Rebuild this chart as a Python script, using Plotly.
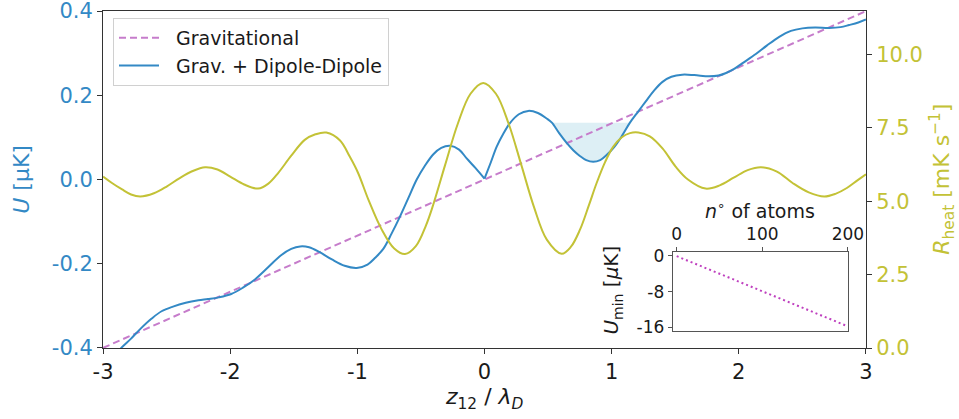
import plotly.graph_objects as go
import numpy as np

# ---------------- data ----------------
# Gravitational potential (straight line)
grav_z = [-3.0, 3.0]
grav_u = [-0.4, 0.4]

# Grav. + Dipole-Dipole, left branch (z <= 0)
dd_left_z = [-3.0, -2.93, -2.857, -2.78, -2.71, -2.62, -2.54, -2.45, -2.35, -2.25,
             -2.175, -2.09, -1.992, -1.90, -1.808, -1.70, -1.60, -1.52, -1.45, -1.38,
             -1.30, -1.20, -1.10, -1.005, -0.92, -0.86, -0.796, -0.73, -0.664, -0.60,
             -0.533, -0.47, -0.402, -0.34, -0.271, -0.20, -0.14, -0.07, 0.0]
dd_left_u = [-0.445, -0.425, -0.400, -0.378, -0.356, -0.331, -0.313, -0.302, -0.293, -0.287,
             -0.284, -0.280, -0.272, -0.257, -0.238, -0.208, -0.180, -0.165, -0.159, -0.161,
             -0.172, -0.190, -0.205, -0.210, -0.202, -0.186, -0.165, -0.128, -0.0875, -0.045,
             0.0, 0.032, 0.060, 0.075, 0.080, 0.071, 0.050, 0.027, 0.002]

# Grav. + Dipole-Dipole, right branch (z >= 0)
dd_right_z = [0.0, 0.05, 0.096, 0.15, 0.20, 0.27, 0.344, 0.42, 0.489, 0.53,
              0.59, 0.646, 0.70, 0.75, 0.80, 0.855, 0.91, 0.96, 1.02, 1.08,
              1.144, 1.21, 1.267, 1.33, 1.40, 1.47, 1.555, 1.65, 1.765, 1.84,
              1.90, 1.96, 2.027, 2.134, 2.22, 2.318, 2.41, 2.50, 2.60, 2.711,
              2.80, 2.868, 2.94, 3.0]
dd_right_u = [0.002, 0.041, 0.078, 0.110, 0.134, 0.155, 0.163, 0.158, 0.145, 0.135,
              0.109, 0.087, 0.069, 0.056, 0.046, 0.042, 0.046, 0.058, 0.077, 0.103,
              0.135, 0.162, 0.185, 0.210, 0.232, 0.244, 0.249, 0.248, 0.245, 0.247,
              0.253, 0.262, 0.276, 0.298, 0.318, 0.339, 0.353, 0.359, 0.361, 0.360,
              0.362, 0.367, 0.373, 0.380]

# Shaded well
fill_level = 0.135
fill_lo, fill_hi = 0.53, 1.144

# Heating rate (right axis)
heat_z = [-3.0, -2.93, -2.85, -2.78, -2.708, -2.60, -2.50, -2.40, -2.30, -2.197,
          -2.10, -2.0, -1.89, -1.781, -1.70, -1.623, -1.52, -1.414, -1.33, -1.244,
          -1.136, -1.06, -0.995, -0.91, -0.81, -0.71, -0.625, -0.54, -0.46, -0.41,
          -0.31, -0.21, -0.11, -0.01, 0.09, 0.19, 0.29, 0.39, 0.49, 0.607,
          0.68, 0.751, 0.82, 0.882, 0.95, 1.013, 1.08, 1.144, 1.21, 1.30,
          1.40, 1.503, 1.60, 1.739, 1.85, 1.96, 2.07, 2.174, 2.30, 2.423,
          2.55, 2.672, 2.76, 2.85, 2.93, 3.0]
heat_r = [5.84, 5.62, 5.40, 5.23, 5.16, 5.27, 5.50, 5.78, 6.02, 6.16,
          6.08, 5.84, 5.57, 5.43, 5.60, 5.96, 6.55, 7.09, 7.28, 7.34,
          7.07, 6.52, 5.97, 5.02, 4.05, 3.39, 3.20, 3.47, 4.18, 4.79,
          6.23, 7.64, 8.66, 9.03, 8.66, 7.64, 6.23, 4.79, 3.69, 3.21,
          3.45, 4.03, 4.85, 5.62, 6.35, 6.86, 7.18, 7.32, 7.34, 7.21,
          6.80, 6.18, 5.74, 5.43, 5.54, 5.80, 6.06, 6.16, 6.01, 5.62,
          5.30, 5.16, 5.25, 5.45, 5.70, 5.92]

# Inset: minimum potential vs number of atoms
inset_n = [0, 200]
inset_u = [-0.05, -15.8]

# Tick values / labels
x_ticks = [-3, -2, -1, 0, 1, 2, 3]
x_ticklabels = ["-3", "-2", "-1", "0", "1", "2", "3"]
u_ticks = [-0.4, -0.2, 0.0, 0.2, 0.4]
u_ticklabels = ["-0.4", "-0.2", "0.0", "0.2", "0.4"]
r_ticks = [0.0, 2.5, 5.0, 7.5, 10.0]
r_ticklabels = ["0.0", "2.5", "5.0", "7.5", "10.0"]
n_ticks = [0, 100, 200]
n_ticklabels = ["0", "100", "200"]
umin_ticks = [0, -8, -16]
umin_ticklabels = ["0", "-8", "-16"]

# ---------------- styling ----------------
W, H = 959, 419
L, R, T, B = 103, 866, 11, 348.5   # plot-area pixel box
BLUE = "#3389c5"
OLIVE = "#c3c236"
MAG = "#c67ccb"
MAG_DARK = "#bf40bf"
FRAME = "#333333"
FONT = "DejaVu Sans"


def px(xp):
    return (xp - L) / (R - L)


def py(yp):
    return (B - yp) / (B - T)


fig = go.Figure()

# shaded well: top line then curve segment filled to it
rz = np.array(dd_right_z)
ru = np.array(dd_right_u)
mask = (rz >= fill_lo) & (rz <= fill_hi)
fig.add_trace(go.Scatter(x=[fill_lo, fill_hi], y=[fill_level, fill_level],
                         mode="lines", line=dict(width=0, color="rgba(0,0,0,0)"),
                         showlegend=False, hoverinfo="skip"))
fig.add_trace(go.Scatter(x=rz[mask], y=ru[mask], mode="lines",
                         line=dict(width=0, color="rgba(0,0,0,0)", shape="spline"),
                         fill="tonexty", fillcolor="rgba(173,216,230,0.42)",
                         showlegend=False, hoverinfo="skip"))

fig.add_trace(go.Scatter(x=grav_z, y=grav_u, mode="lines",
                         name="&nbsp;&nbsp;Gravitational",
                         line=dict(color=MAG, width=2, dash="7px,4px")))
fig.add_trace(go.Scatter(x=dd_left_z, y=dd_left_u, mode="lines",
                         name="&nbsp;&nbsp;Grav. + Dipole-Dipole", legendgroup="dd",
                         line=dict(color=BLUE, width=2, shape="spline")))
fig.add_trace(go.Scatter(x=dd_right_z, y=dd_right_u, mode="lines",
                         name="Grav. + Dipole-Dipole", legendgroup="dd", showlegend=False,
                         line=dict(color=BLUE, width=2, shape="spline")))

fig.add_trace(go.Scatter(x=heat_z, y=heat_r, mode="lines", yaxis="y2", showlegend=False,
                         line=dict(color=OLIVE, width=2, shape="spline")))

fig.add_trace(go.Scatter(x=inset_n, y=inset_u, mode="lines", xaxis="x3", yaxis="y3",
                         showlegend=False,
                         line=dict(color=MAG_DARK, width=2, dash="2px,3px")))

tick_font = dict(family=FONT, size=21, color="#1a1a1a")
common = dict(showgrid=False, zeroline=False, showline=True, linewidth=1,
              ticks="outside", automargin=False, ticklabeloverflow="allow")
fig.update_layout(
    width=W, height=H,
    margin=dict(l=L, r=W - R, t=T, b=H - B, pad=0),
    paper_bgcolor="white", plot_bgcolor="white",
    font=dict(family=FONT, size=20, color="#1a1a1a"),
    xaxis=dict(range=[-3.0005, 3.0005], tickvals=x_ticks, ticktext=x_ticklabels,
               linecolor=FRAME, mirror=True, ticklen=5, tickcolor=FRAME,
               tickfont=tick_font, **common),
    yaxis=dict(range=[-0.4003, 0.4003], tickvals=u_ticks, ticktext=u_ticklabels,
               linecolor=FRAME, ticklen=5, tickcolor=FRAME,
               tickfont=dict(family=FONT, size=21, color=BLUE), **common),
    yaxis2=dict(range=[0, 11.48], overlaying="y", side="right", anchor="x",
                tickvals=r_ticks, ticktext=r_ticklabels,
                linecolor=FRAME, ticklen=5, tickcolor=FRAME,
                tickfont=dict(family=FONT, size=21, color=OLIVE), **common),
    xaxis3=dict(domain=[px(672.7), px(848.3)], anchor="y3", side="top",
                range=[-4.7, 200.5], tickvals=n_ticks, ticktext=n_ticklabels,
                linecolor="#555555", mirror=True, ticklen=4, tickcolor="#555555",
                tickfont=dict(family=FONT, size=17, color="#1a1a1a"), **common),
    yaxis3=dict(domain=[py(331), py(252.3)], anchor="x3",
                range=[-16.74, 0.9], tickvals=umin_ticks, ticktext=umin_ticklabels,
                linecolor="#555555", mirror=True, ticklen=4, tickcolor="#555555",
                tickfont=dict(family=FONT, size=17, color="#1a1a1a"), **common),
    legend=dict(x=px(113), y=py(18), xanchor="left", yanchor="top",
                bgcolor="rgba(255,255,255,0.85)", bordercolor="#d0d0d0", borderwidth=1,
                font=dict(family=FONT, size=19, color="#1a1a1a"),
                itemwidth=40, tracegroupgap=0),
    showlegend=True,
)

annots = [
    dict(text="<i>z</i><sub>12</sub> / <i>λ</i><sub><i>D</i></sub>", x=px(484), y=py(399),
         font=dict(size=22, color="#1a1a1a"), textangle=0),
    dict(text="<i>U</i> [μK]", x=px(22), y=py(180),
         font=dict(size=22, color=BLUE), textangle=-90),
    dict(text="<i>R</i><sub>heat</sub> [mK s<sup>−1</sup>]", x=px(942), y=py(180),
         font=dict(size=22, color=OLIVE), textangle=-90),
    dict(text="<i>U</i><sub>min</sub> [<i>μ</i>K]", x=px(612), y=py(291),
         font=dict(size=20, color="#1a1a1a"), textangle=-90),
    dict(text="<i>n</i><sup>∘</sup> of atoms", x=px(760), y=py(210),
         font=dict(size=19, color="#1a1a1a"), textangle=0),
]
for a in annots:
    fig.add_annotation(xref="paper", yref="paper", showarrow=False,
                       xanchor="center", yanchor="middle",
                       font_family=FONT, **a)

fig.write_html("out.html")
